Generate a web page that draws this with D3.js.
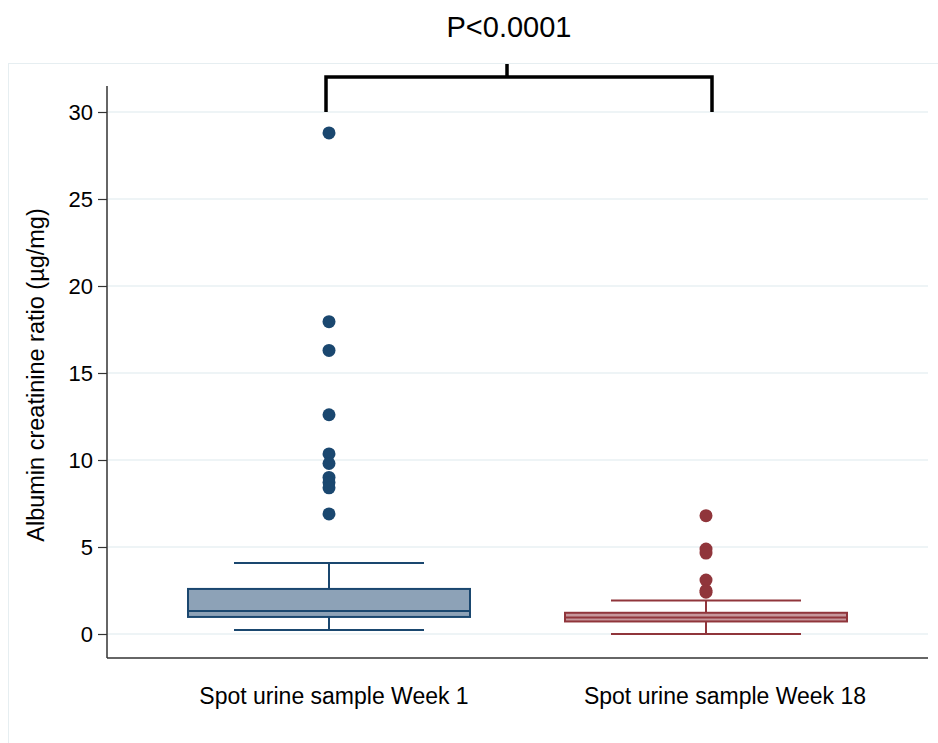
<!doctype html>
<html>
<head>
<meta charset="utf-8">
<script src="https://d3js.org/d3.v7.min.js"></script>
<style>
  body { margin:0; background:#fff; }
  text { font-family: Arial, "Liberation Sans", sans-serif; fill:#000; }
</style>
</head>
<body>
<svg id="chart" width="938" height="743"></svg>
<script>
// data
const groups   = ["Spot urine sample Week 1", "Spot urine sample Week 18"];
const lowWhisk = [0.23, 0.0];
const q1       = [0.98, 0.72];
const median   = [1.32, 0.95];
const q3       = [2.59, 1.22];
const hiWhisk  = [4.08, 1.92];
const outliersW1  = [28.8, 17.95, 16.3, 12.6, 10.35, 9.8, 9.0, 8.7, 8.4, 6.9];
const outliersW18 = [6.8, 4.88, 4.65, 3.1, 2.5, 2.4];
const yTicks = [0, 5, 10, 15, 20, 25, 30];
const pLabel = "P<0.0001";

const strokeCol = ["#1a476f", "#90353b"];
const fillCol   = ["#8da2b7", "#c6969b"];

const svg = d3.select("#chart");

// outer light frame
svg.append("rect").attr("x", 8.5).attr("y", 63.5).attr("width", 940).attr("height", 700)
  .attr("fill", "none").attr("stroke", "#e6eef1");

const left = 107, right = 928, axisBottom = 658;
const y = d3.scaleLinear().domain([0, 30]).range([634, 112]);
const x = d3.scalePoint().domain(groups).range([329, 706]);
const boxHalf = 141, capHalf = 95;

// gridlines
svg.append("g").selectAll("line").data(yTicks).join("line")
  .attr("x1", left + 1).attr("x2", right)
  .attr("y1", d => y(d)).attr("y2", d => y(d))
  .attr("stroke", "#e8f1f3").attr("stroke-width", 1.5);

// y axis
const yAxis = svg.append("g").attr("transform", `translate(${left},0)`)
  .call(d3.axisLeft(y).tickValues(yTicks).tickSize(9).tickPadding(5));
yAxis.select(".domain").remove();
yAxis.selectAll(".tick line").attr("stroke", "#333").attr("stroke-width", 1.2);
yAxis.selectAll(".tick text").style("font-size", "22px")
  .style("font-family", "Arial, 'Liberation Sans', sans-serif").attr("fill", "#000");
svg.append("line").attr("x1", left).attr("x2", left).attr("y1", 86).attr("y2", axisBottom)
  .attr("stroke", "#333").attr("stroke-width", 1.5);
svg.append("line").attr("x1", left).attr("x2", right).attr("y1", axisBottom).attr("y2", axisBottom)
  .attr("stroke", "#333").attr("stroke-width", 1.5);

// y title
svg.append("text").attr("transform", `translate(44,${(112 + 634) / 2 + 2}) rotate(-90)`)
  .attr("text-anchor", "middle").style("font-size", "23.5px")
  .text("Albumin creatinine ratio (µg/mg)");

// x labels (second label sits a bit right of its box in the original)
const labelShift = [5, 19];
svg.append("g").selectAll("text").data(groups).join("text")
  .attr("x", (d, i) => x(d) + labelShift[i]).attr("y", 704).attr("text-anchor", "middle")
  .style("font-size", "23px").text(d => d);

// boxes
groups.forEach((g, i) => {
  const cx = x(g);
  const gg = svg.append("g");
  const sc = strokeCol[i];
  // whiskers
  gg.append("line").attr("x1", cx).attr("x2", cx).attr("y1", y(q3[i])).attr("y2", y(hiWhisk[i]))
    .attr("stroke", sc).attr("stroke-width", 2);
  gg.append("line").attr("x1", cx).attr("x2", cx).attr("y1", y(q1[i])).attr("y2", y(lowWhisk[i]))
    .attr("stroke", sc).attr("stroke-width", 2);
  [hiWhisk[i], lowWhisk[i]].forEach(v => {
    gg.append("line").attr("x1", cx - capHalf).attr("x2", cx + capHalf)
      .attr("y1", y(v)).attr("y2", y(v)).attr("stroke", sc).attr("stroke-width", 2);
  });
  gg.append("rect").attr("x", cx - boxHalf).attr("width", boxHalf * 2)
    .attr("y", y(q3[i])).attr("height", y(q1[i]) - y(q3[i]))
    .attr("fill", fillCol[i]).attr("stroke", sc).attr("stroke-width", 2);
  gg.append("line").attr("x1", cx - boxHalf).attr("x2", cx + boxHalf)
    .attr("y1", y(median[i])).attr("y2", y(median[i])).attr("stroke", sc).attr("stroke-width", 2);
});

// outliers
[outliersW1, outliersW18].forEach((arr, i) => {
  svg.append("g").selectAll("circle").data(arr).join("circle")
    .attr("cx", x(groups[i])).attr("cy", d => y(d)).attr("r", 6.5)
    .attr("fill", strokeCol[i]);
});

// significance bracket
const bx1 = x(groups[0]) - 3, bx2 = x(groups[1]) + 6, by = 77, bmid = 507;
svg.append("path")
  .attr("d", `M${bx1},${y(30)}V${by}H${bx2}V${y(30)}M${bmid},${by}V64`)
  .attr("fill", "none").attr("stroke", "#000").attr("stroke-width", 3.5);
svg.append("text").attr("x", bmid + 2).attr("y", 37).attr("text-anchor", "middle")
  .style("font-size", "29px").text(pLabel);
</script>
</body>
</html>
